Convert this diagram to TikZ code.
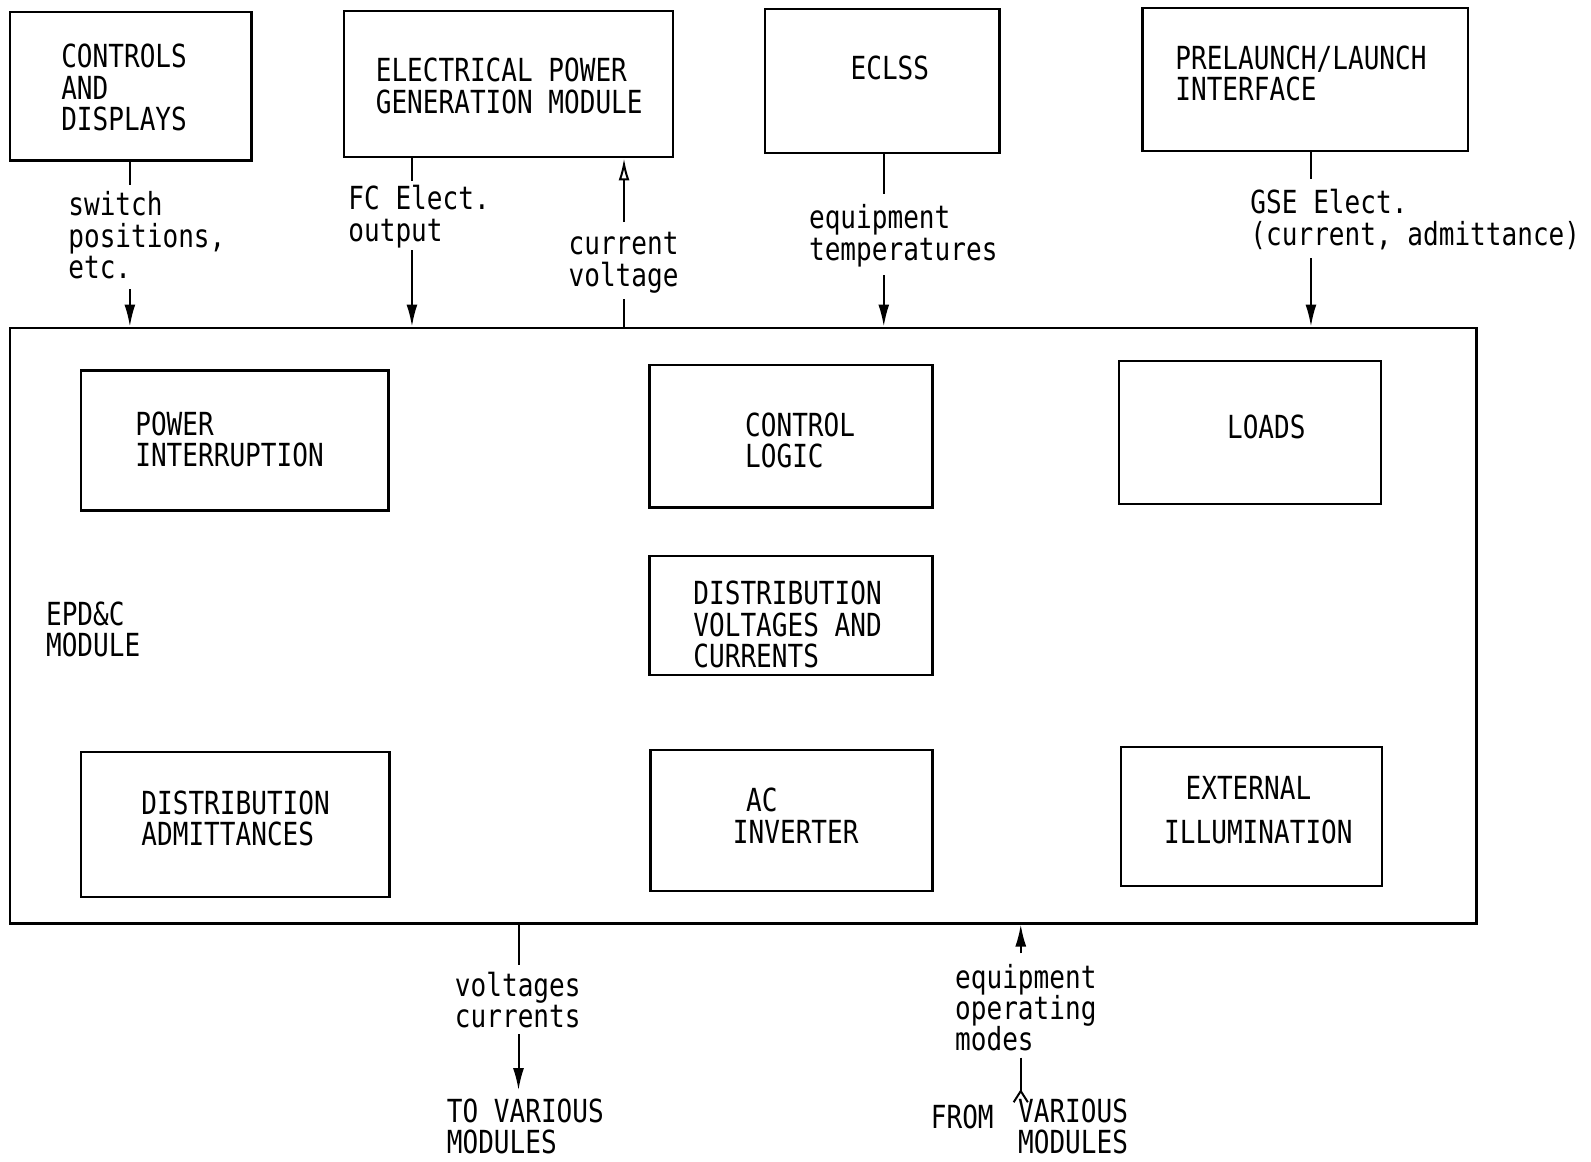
\documentclass[tikz,border=0pt]{standalone}
\usepackage{fontspec}
\newfontfamily\typefont[FakeStretch=0.82]{DejaVu Sans Mono}
\usetikzlibrary{arrows.meta}
% a box given by its corners (x1,y1) and (x2,y2), in picture units
\newcommand\cornerbox[5]{%
  \node[box, minimum width={(#4-#2)*0.5074pt}, minimum height={(#5-#3)*0.5074pt}]
    (#1) at ({(#2+#4)/2},{(#3+#5)/2}) {};}
\begin{document}
\begin{tikzpicture}[x=0.5074pt, y=-0.5074pt,
  box/.style={draw, line width=1.2pt, inner sep=0pt},
  txt/.style={font=\typefont\fontsize{15.9}{15.7}\selectfont, inner sep=0pt, align=left, anchor=west},
  wire/.style={line width=1pt},
  arr/.style={wire, -{Latex[length=11pt, width=5.5pt]}},
  oarr/.style={wire, -{Latex[open, length=11pt, width=5.5pt]}}]
\useasboundingbox (0,0) rectangle (1568,1145);

% outer modules
\cornerbox{cd}{10}{12}{248}{158}
\cornerbox{epg}{339}{11}{663}{155}
\cornerbox{eclss}{754}{9}{985}{151}
\cornerbox{pre}{1126}{8}{1447}{149}
\node[txt] (cdt) at (60,86.5) {CONTROLS\\AND\\DISPLAYS};
\node[txt] (epgt) at (370,84.5) {ELECTRICAL POWER\\GENERATION MODULE};
\node[txt, anchor=center] (eclsst) at (877,67) {ECLSS};
\node[txt] (pret) at (1158,72.5) {PRELAUNCH/LAUNCH\\INTERFACE};

% EPD&C module and its parts
\cornerbox{main}{10}{323}{1455}{910}
\cornerbox{pi}{80}{365}{383}{503}
\cornerbox{cl}{640}{360}{919}{500}
\cornerbox{loads}{1103}{356}{1361}{497}
\cornerbox{dvc}{640}{548}{919}{665}
\cornerbox{da}{80}{741}{384}{884}
\cornerbox{ac}{641}{739}{919}{878}
\cornerbox{ei}{1105}{736}{1362}{873}
\node[txt] (pit) at (133,433) {POWER\\INTERRUPTION};
\node[txt] (clt) at (734,434) {CONTROL\\LOGIC};
\node[txt, anchor=center] (loadst) at (1248,421) {LOADS};
\node[txt] (dvct) at (683,615.5) {DISTRIBUTION\\VOLTAGES AND\\CURRENTS};
\node[txt] (epdc) at (45,620.5) {EPD\&C\\MODULE};
\node[txt] (dat) at (139,806.5) {DISTRIBUTION\\ADMITTANCES};
\node[txt] (act) at (722,804) {\hspace*{6.6pt}AC\\INVERTER};
\node[txt] (eit) at (1147,798.5) {\hspace*{10.7pt}EXTERNAL\\[6pt]ILLUMINATION};

% signal labels
\node[txt] (sw) at (67,232) {switch\\positions,\\etc.};
\node[txt] (fc) at (343,213.5) {FC Elect.\\output};
\node[txt] (cv) at (560,259) {current\\voltage};
\node[txt] (et) at (797,232.5) {equipment\\temperatures};
\node[txt] (gse) at (1232,216.5) {GSE Elect.\\(current, admittance)};
\node[txt] (vc) at (448,985.5) {voltages\\currents};
\node[txt] (tvm) at (440,1110) {TO VARIOUS\\MODULES};
\node[txt] (eom) at (941,993) {equipment\\operating\\modes};
\node[txt] (from) at (917,1101) {FROM};
\node[txt] (vm) at (1003,1110) {VARIOUS\\MODULES};

% connector columns
\coordinate (p1) at (128,0);
\coordinate (p2) at (406,0);
\coordinate (p3) at (615,0);
\coordinate (p4) at (871,0);
\coordinate (p5) at (1292,0);
\coordinate (p6) at (511,0);
\coordinate (p7) at (1006,0);

% inputs from the top
\draw[wire, shorten >=3pt] (p1 |- cd.south) -- (p1 |- sw.north);
\draw[arr, shorten <=5pt] (p1 |- sw.south) -- (p1 |- main.north);
\draw[wire, shorten >=2pt] (p2 |- epg.south) -- (p2 |- fc.north);
\draw[arr, shorten <=1pt] (p2 |- fc.south) -- (p2 |- main.north);
\draw[wire, shorten >=3pt] (p3 |- main.north) -- (p3 |- cv.south);
\draw[oarr, shorten <=5pt] (p3 |- cv.north) -- (p3 |- epg.south);
\draw[wire, shorten >=5pt] (p4 |- eclss.south) -- (p4 |- et.north);
\draw[arr, shorten <=4pt] (p4 |- et.south) -- (p4 |- main.north);
\draw[wire, shorten >=5pt] (p5 |- pre.south) -- (p5 |- gse.north);
\draw[arr, shorten <=4pt] (p5 |- gse.south) -- (p5 |- main.north);

% outputs and inputs at the bottom
\draw[wire, shorten >=3pt] (p6 |- main.south) -- (p6 |- vc.north);
\draw[arr, shorten <=3pt, shorten >=4pt] (p6 |- vc.south) -- (p6 |- tvm.north);
\draw[arr, shorten <=5pt] (p7 |- eom.north) -- (p7 |- main.south);
\path (p7 |- vm.north) ++(0,-7) coordinate (chev);
\draw[wire, shorten <=3pt] (p7 |- eom.south) -- (chev);
\draw[wire] (chev) ++(-7,11) -- (chev) -- ++(7,11);
\end{tikzpicture}
\end{document}
